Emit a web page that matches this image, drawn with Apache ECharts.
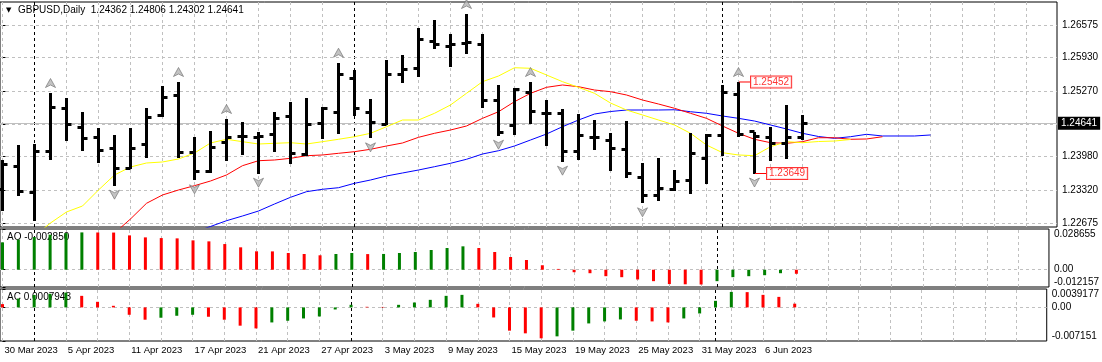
<!DOCTYPE html>
<html><head><meta charset="utf-8">
<script src="https://cdn.jsdelivr.net/npm/echarts@6/dist/echarts.min.js"></script>
<style>html,body{margin:0;padding:0;background:#fff}#c{width:1102px;height:362px}</style>
</head><body><div id="c"></div>
<script>
// ---------- data ----------
const dates = ['30 Mar 2023','31 Mar 2023','3 Apr 2023','4 Apr 2023','5 Apr 2023','6 Apr 2023','7 Apr 2023','10 Apr 2023','11 Apr 2023','12 Apr 2023','13 Apr 2023','14 Apr 2023','17 Apr 2023','18 Apr 2023','19 Apr 2023','20 Apr 2023','21 Apr 2023','24 Apr 2023','25 Apr 2023','26 Apr 2023','27 Apr 2023','28 Apr 2023','1 May 2023','2 May 2023','3 May 2023','4 May 2023','5 May 2023','8 May 2023','9 May 2023','10 May 2023','11 May 2023','12 May 2023','15 May 2023','16 May 2023','17 May 2023','18 May 2023','19 May 2023','22 May 2023','23 May 2023','24 May 2023','25 May 2023','26 May 2023','29 May 2023','30 May 2023','31 May 2023','1 Jun 2023','2 Jun 2023','5 Jun 2023','6 Jun 2023','7 Jun 2023','8 Jun 2023'];
const labelIdx = [0,4,8,12,16,20,24,28,32,36,40,44,48];
const monthStartIdx = [2,22,45];

const open  = [1.23324,1.23791,1.23271,1.24079,1.24926,1.24559,1.24362,1.24146,1.23738,1.24216,1.24788,1.25176,1.24059,1.23679,1.24256,1.24374,1.24368,1.24413,1.24768,1.24014,1.24630,1.24847,1.25511,1.24847,1.24610,1.25603,1.25721,1.26246,1.26147,1.26220,1.26194,1.25091,1.24591,1.25241,1.24827,1.24827,1.24079,1.24354,1.24295,1.24118,1.23566,1.23212,1.23324,1.23507,1.23941,1.24394,1.25196,1.24473,1.24354,1.24244,1.24362];
const high  = [1.23915,1.24211,1.24230,1.25235,1.25136,1.24861,1.24551,1.24408,1.24545,1.24945,1.25373,1.25452,1.24374,1.24486,1.24723,1.24664,1.24467,1.24861,1.25058,1.25136,1.24965,1.25832,1.25694,1.25117,1.25885,1.25983,1.26515,1.26673,1.26397,1.26791,1.26397,1.25387,1.25333,1.25452,1.25097,1.24920,1.24821,1.24703,1.24453,1.24683,1.23856,1.23960,1.23718,1.24453,1.24421,1.25387,1.25452,1.24473,1.24571,1.24993,1.24806];
const low   = [1.22916,1.23212,1.22713,1.23921,1.24289,1.24098,1.23862,1.23409,1.23738,1.23960,1.24762,1.23960,1.23515,1.23653,1.23895,1.24014,1.23645,1.24079,1.23842,1.24000,1.24335,1.24433,1.24782,1.24342,1.24610,1.25438,1.25556,1.26108,1.25753,1.26009,1.24945,1.24394,1.24413,1.24630,1.24197,1.23882,1.23909,1.24118,1.23698,1.23555,1.23062,1.23101,1.23310,1.23251,1.23448,1.23988,1.24362,1.23649,1.23901,1.23929,1.24302];
const close = [1.23822,1.23291,1.24079,1.24959,1.24610,1.24335,1.24098,1.23738,1.24146,1.24748,1.25142,1.24059,1.23685,1.24165,1.24362,1.24380,1.24370,1.24729,1.24039,1.24610,1.24926,1.25595,1.24926,1.24650,1.25595,1.25694,1.26285,1.26194,1.26194,1.26225,1.25091,1.24453,1.25308,1.24861,1.24827,1.24079,1.24394,1.24354,1.24138,1.23645,1.23212,1.23350,1.23488,1.24039,1.24394,1.25241,1.24413,1.24374,1.24244,1.24362,1.24641];

// Alligator lines (already shifted forward): first bar index + values
const lipsStart = 2;
const lips = [1.22418,1.22674,1.22891,1.23009,1.23324,1.23620,1.23777,1.23856,1.23876,1.23935,1.24053,1.24250,1.24323,1.24276,1.24230,1.24244,1.24256,1.24230,1.24276,1.24323,1.24374,1.24441,1.24571,1.24703,1.24703,1.24835,1.24999,1.25229,1.25458,1.25570,1.25733,1.25722,1.25590,1.25458,1.25347,1.25229,1.25038,1.24900,1.24802,1.24703,1.24605,1.24441,1.24211,1.24059,1.24014,1.24000,1.24177,1.24276,1.24256,1.24279,1.24289,1.24319];
const teethStart = 7;
const teeth = [1.22477,1.22753,1.23062,1.23226,1.23324,1.23409,1.23501,1.23620,1.23803,1.23901,1.23915,1.23948,1.24000,1.24014,1.24047,1.24079,1.24126,1.24191,1.24250,1.24362,1.24441,1.24506,1.24585,1.24736,1.24866,1.25064,1.25229,1.25347,1.25393,1.25359,1.25294,1.25261,1.25196,1.25097,1.25018,1.24934,1.24835,1.24736,1.24585,1.24441,1.24323,1.24256,1.24244,1.24276,1.24354,1.24354,1.24323,1.24329,1.24374];
const jawStart = 12;
const jaw = [1.22497,1.22605,1.22719,1.22812,1.22910,1.23048,1.23180,1.23291,1.23338,1.23369,1.23456,1.23521,1.23600,1.23659,1.23718,1.23783,1.23850,1.23929,1.24033,1.24098,1.24191,1.24309,1.24427,1.24571,1.24703,1.24821,1.24870,1.24900,1.24900,1.24900,1.24905,1.24866,1.24835,1.24782,1.24736,1.24683,1.24605,1.24526,1.24441,1.24378,1.24342,1.24374,1.24421,1.24388,1.24388,1.24388,1.24408];

const fractalUpIdx = [3,11,14,21,29,33,46];
const fractalDownIdx = [7,12,16,23,31,35,40,47];
const hiLabelIdx = 46;
const loLabelIdx = 47;

const ao = [0.01926,0.02115,0.02297,0.02465,0.02577,0.02626,0.02620,0.02615,0.02416,0.02276,0.02227,0.02206,0.02066,0.01996,0.01807,0.01576,0.01296,0.01290,0.01176,0.01106,0.01015,0.01106,0.01176,0.01100,0.01110,0.01176,0.01246,0.01387,0.01527,0.01646,0.01527,0.01246,0.00896,0.00686,0.00315,0.00056,-0.00175,-0.00245,-0.00455,-0.00525,-0.00686,-0.00805,-0.01010,-0.01025,-0.01040,-0.00805,-0.00525,-0.00455,-0.00385,-0.00245,-0.002850];
const ac = [0.00070,0.00188,0.00265,0.00290,0.00315,0.00246,0.00119,0.00034,-0.00157,-0.00262,-0.00220,-0.00178,-0.00157,-0.00199,-0.00262,-0.00389,-0.00447,-0.00320,-0.00284,-0.00235,-0.00193,-0.00044,0.00055,0.00013,0.00010,0.00055,0.00104,0.00161,0.00246,0.00267,0.00076,-0.00214,-0.00495,-0.00552,-0.00658,-0.00616,-0.00495,-0.00341,-0.00298,-0.00256,-0.00284,-0.00298,-0.00320,-0.00235,-0.00129,0.00140,0.00330,0.00325,0.00267,0.00224,0.0007943];

const priceTicks = [1.22675,1.23320,1.23980,1.24620,1.25270,1.25930,1.26575];
const aoTicks = [-0.012157, 0, 0.028655];
const acTicks = [-0.007151, 0, 0.0039177];

// ---------- layout / style ----------
const FONT = 'Liberation Sans';
const FS = 9.5;
const FSN = 10;
const GREEN = '#008000', RED = '#ff0000';
const GRID_GRAY = '#c0c0c0';
const X_MIN = -0.15625, X_MAX = 65.90625;
const N = close.length;

const ohlc = dates.map((d, i) => [i, open[i], high[i], low[i], close[i]]);
const seq = (start, arr) => arr.map((v, k) => [start + k, v]);

function renderOHLC(params, api) {
  const x = api.value(0);
  const pO = api.coord([x, api.value(1)]);
  const pH = api.coord([x, api.value(2)]);
  const pL = api.coord([x, api.value(3)]);
  const pC = api.coord([x, api.value(4)]);
  const cx = Math.round(pO[0] - 0.5) + 0.5;
  const sy = v => Math.round(v - 0.5) + 0.5;
  const st = {stroke: '#000', lineWidth: 3};
  return {type: 'group', children: [
    {type: 'line', shape: {x1: cx, y1: Math.round(pH[1]), x2: cx, y2: Math.round(pL[1])}, style: st},
    {type: 'line', shape: {x1: cx - 5, y1: sy(pO[1]), x2: cx, y2: sy(pO[1])}, style: st},
    {type: 'line', shape: {x1: cx, y1: sy(pC[1]), x2: cx + 5, y2: sy(pC[1])}, style: st}
  ]};
}

const vGrid = [];
for (let i = 0; i <= 64; i += 2) {
  if (monthStartIdx.indexOf(i) < 0) vGrid.push({xAxis: i, lineStyle: {color: GRID_GRAY, type: [3, 3], width: 1}});
}
const sep = monthStartIdx.map(i => ({xAxis: i, lineStyle: {color: '#000', type: [3, 3], width: 1}}));
const txt = {fontFamily: FONT, fontSize: FS, color: '#000', fontWeight: 'normal'};
const txtN = {fontFamily: FONT, fontSize: FSN, color: '#000', fontWeight: 'normal'};

function scaffold(gi, extra) {
  return {
    type: 'line', xAxisIndex: gi, yAxisIndex: gi, data: [], z: 1, silent: true,
    markLine: {symbol: 'none', silent: true, animation: false, precision: 8, z: 1, label: {show: false},
      data: vGrid.concat(sep).concat(extra)}
  };
}

const mainH = priceTicks.map(v => ({yAxis: v, lineStyle: {color: GRID_GRAY, type: [3, 3], width: 1}}));
mainH.push({yAxis: close[N - 1], lineStyle: {color: '#c0c0c0', type: 'solid', width: 1},
  label: {show: true, position: 'end', distance: 1, formatter: close[N - 1].toFixed(5),
    color: '#fff', backgroundColor: '#000', padding: [2, 3, 1, 3], fontFamily: FONT, fontSize: FSN}});
const zeroLine = [{yAxis: 0, lineStyle: {color: GRID_GRAY, type: [3, 3], width: 1}}];

const header = 'GBPUSD,Daily  ' + [open[N-1], high[N-1], low[N-1], close[N-1]].map(v => v.toFixed(5)).join(' ');

const UP = 'path://M5,0 L10,9 L5,6.5 L0,9 Z';
const DOWN = 'path://M0,0 L5,2.5 L10,0 L5,9 Z';
const fracStyle = {color: '#b4b4b4', borderColor: '#6e6e6e', borderWidth: 0.8};

const gridBase = {left: 0, right: 45, show: true, borderColor: '#000', borderWidth: 1, backgroundColor: '#fff'};

function xAx(g) {
  const showLab = g === 2;
  return {type: 'value', gridIndex: g, min: X_MIN, max: X_MAX,
    axisLine: {show: false}, splitLine: {show: false},
    axisTick: {show: showLab, customValues: labelIdx, length: 3, lineStyle: {color: '#000'}},
    axisLabel: {show: showLab, customValues: labelIdx, formatter: v => dates[v], align: 'left',
      margin: 4, padding: [0, 0, 0, 2], ...txt}};
}
function yAx(g, min, max, ticks, fmt, edgeAlign) {
  const lab = {customValues: ticks, formatter: fmt, margin: 5, ...txtN};
  if (edgeAlign) { lab.verticalAlignMinLabel = 'bottom'; lab.verticalAlignMaxLabel = 'top'; }
  return {type: 'value', gridIndex: g, position: 'right', min: min, max: max,
    axisLine: {show: false}, splitLine: {show: false},
    axisTick: {show: true, customValues: ticks, length: 3, lineStyle: {color: '#000'}},
    axisLabel: lab};
}
const subFmt = v => v === 0 ? '0.00' : String(v);

const option = {
  animation: false,
  backgroundColor: '#fff',
  title: [
    {text: '▼', left: 6, top: 6.5, padding: 0, textStyle: {fontFamily: 'DejaVu Sans', fontSize: 7, color: '#000', fontWeight: 'normal'}},
    {text: header, left: 18, top: 5.5, padding: 0, textStyle: txtN},
    {text: 'AO ' + ao[N-1].toFixed(6), left: 7, top: 232.5, padding: 0, z: 1, textStyle: txtN},
    {text: 'AC ' + ac[N-1].toFixed(7), left: 7, top: 292.5, padding: 0, z: 1, textStyle: txtN}
  ],
  grid: [
    {...gridBase, top: 2, height: 225},
    {...gridBase, top: 229, height: 58},
    {...gridBase, top: 289, height: 52}
  ],
  xAxis: [xAx(0), xAx(1), xAx(2)],
  yAxis: [
    yAx(0, 1.22595, 1.27028, priceTicks, v => v.toFixed(5), false),
    yAx(1, aoTicks[0], aoTicks[2], aoTicks, subFmt, true),
    yAx(2, acTicks[0], acTicks[2], acTicks, subFmt, true)
  ],
  series: [
    scaffold(0, mainH),
    scaffold(1, zeroLine),
    scaffold(2, zeroLine),
    {type: 'line', name: 'Jaw', xAxisIndex: 0, yAxisIndex: 0, data: seq(jawStart, jaw), showSymbol: false, symbol: 'none', z: 2, silent: true, lineStyle: {color: '#0000ff', width: 1}},
    {type: 'line', name: 'Teeth', xAxisIndex: 0, yAxisIndex: 0, data: seq(teethStart, teeth), showSymbol: false, symbol: 'none', z: 2, silent: true, lineStyle: {color: '#ff0000', width: 1}},
    {type: 'line', name: 'Lips', xAxisIndex: 0, yAxisIndex: 0, data: seq(lipsStart, lips), showSymbol: false, symbol: 'none', z: 2, silent: true, lineStyle: {color: '#ffff00', width: 1}},
    {type: 'custom', name: 'GBPUSD', xAxisIndex: 0, yAxisIndex: 0, data: ohlc, renderItem: renderOHLC, encode: {x: 0, y: [1, 2, 3, 4]}, z: 3, silent: true},
    {type: 'scatter', xAxisIndex: 0, yAxisIndex: 0, data: fractalUpIdx.map(i => [i, high[i]]), symbol: UP, symbolSize: [10, 9], symbolOffset: [0, -10], itemStyle: fracStyle, z: 4, silent: true},
    {type: 'scatter', xAxisIndex: 0, yAxisIndex: 0, data: fractalDownIdx.map(i => [i, low[i]]), symbol: DOWN, symbolSize: [10, 9], symbolOffset: [0, 9], itemStyle: fracStyle, z: 4, silent: true},
    {type: 'scatter', xAxisIndex: 0, yAxisIndex: 0, z: 5, silent: true,
      data: [[hiLabelIdx, high[hiLabelIdx]], [loLabelIdx, low[loLabelIdx]]],
      symbolSize: 1, itemStyle: {color: 'rgba(0,0,0,0)'},
      label: {show: true, position: 'right', distance: 2, formatter: p => p.value[1].toFixed(5),
        color: '#ff0000', backgroundColor: '#fff', borderColor: '#ff0000', borderWidth: 1,
        padding: [1, 2, 0, 2], fontFamily: FONT, fontSize: FSN},
      labelLayout: {dx: 10},
      labelLine: {show: true, lineStyle: {color: '#ff0000', width: 1}}},
    {type: 'bar', xAxisIndex: 1, yAxisIndex: 1, data: ao.map((v, i) => [i, v]), barWidth: 3, z: 2, silent: true,
      itemStyle: {color: p => (p.dataIndex === 0 || ao[p.dataIndex] > ao[p.dataIndex - 1]) ? GREEN : RED}},
    {type: 'bar', xAxisIndex: 2, yAxisIndex: 2, data: ac.map((v, i) => [i, v]), barWidth: 3, z: 2, silent: true,
      itemStyle: {color: p => (p.dataIndex > 0 && ac[p.dataIndex] > ac[p.dataIndex - 1]) ? GREEN : RED}}
  ]
};
const chart = echarts.init(document.getElementById('c'), null, {renderer: 'canvas'});
chart.setOption(option);
</script></body></html>
